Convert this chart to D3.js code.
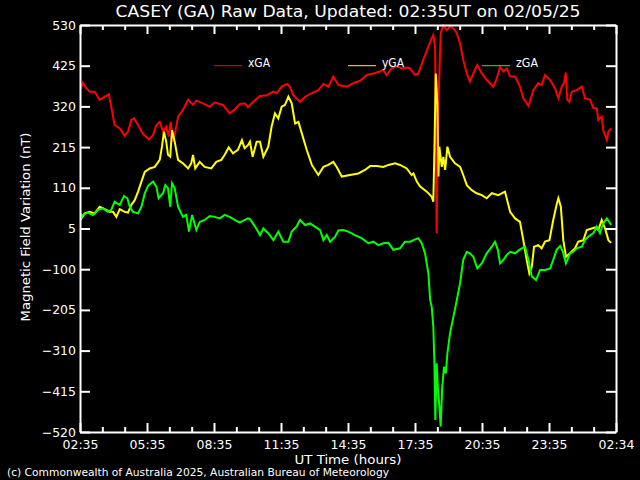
<!DOCTYPE html>
<html><head><meta charset="utf-8">
<script src="https://cdn.jsdelivr.net/npm/d3@7"></script>
<style>html,body{margin:0;padding:0;background:#000;}svg{display:block;}</style>
</head><body>
<script>
// ---- data (hours since 02:35 UT, nT) ----
const titleText = "CASEY (GA) Raw Data, Updated: 02:35UT on 02/05/25";
const xTickLabels = ["02:35","05:35","08:35","11:35","14:35","17:35","20:35","23:35","02:34"];
const yTickValues = [530,425,320,215,110,5,-100,-205,-310,-415,-520];
const seriesNames = ["xGA","yGA","zGA"];

const xGA_t = [0,0.13,0.28,0.43,0.66,0.88,1.11,1.29,1.40,1.55,1.78,2.00,2.15,2.30,2.42,2.60,2.82,3.08,3.27,3.42,3.57,3.72,3.86,3.97,4.06,4.16,4.27,4.39,4.61,4.84,5.06,5.21,5.51,5.81,6.03,6.40,6.70,6.93,7.15,7.38,7.52,7.76,8.06,8.36,8.66,8.81,9.03,9.26,9.40,9.55,9.85,10.08,10.38,10.67,10.90,11.12,11.34,11.57,11.94,12.24,12.54,12.84,13.13,13.43,13.58,13.73,13.96,14.18,14.40,14.63,14.78,15.00,15.15,15.37,15.60,15.75,15.82,15.90,15.97,16.05,16.15,16.27,16.42,16.57,16.72,16.87,17.02,17.16,17.32,17.46,17.61,17.79,17.99,18.21,18.51,18.66,18.81,18.96,19.11,19.26,19.48,19.70,19.85,20.08,20.30,20.52,20.67,20.82,21.05,21.27,21.42,21.57,21.67,21.75,21.82,21.91,22.02,22.24,22.47,22.61,22.84,22.99,23.14,23.21,23.36,23.43,23.59,23.66,23.78];
const xGA_v = [362,381,367,358,358,337,345,351,319,272,263,244,255,285,289,272,249,235,246,272,280,255,268,242,280,229,255,293,311,337,324,335,328,319,330,324,302,312,326,328,318,332,347,349,358,354,371,378,371,349,332,345,354,362,378,371,397,375,371,380,386,401,405,410,414,401,418,424,418,420,418,401,405,440,474,496,504,474,-7,329,509,530,517,526,521,509,483,440,405,384,405,427,405,388,371,392,422,410,418,397,397,371,341,321,362,380,375,401,388,367,341,371,380,407,337,332,358,362,371,341,337,315,315,285,293,259,233,255,263];

const yGA_t = [0,0.06,0.21,0.43,0.66,0.88,1.11,1.33,1.48,1.63,1.78,2.00,2.15,2.30,2.45,2.60,2.75,2.90,3.12,3.35,3.57,3.67,3.76,3.86,3.94,4.04,4.12,4.24,4.39,4.61,4.84,4.98,5.06,5.16,5.36,5.58,5.88,6.10,6.33,6.48,6.66,6.85,7.07,7.25,7.37,7.52,7.61,7.73,7.91,8.06,8.21,8.43,8.58,8.73,8.88,9.03,9.18,9.33,9.48,9.63,9.78,9.93,10.15,10.38,10.67,10.90,11.12,11.34,11.49,11.72,12.09,12.46,12.76,12.99,13.29,13.58,13.81,14.11,14.33,14.63,14.85,14.93,15.08,15.23,15.53,15.75,15.82,15.87,15.93,16.00,16.05,16.09,16.20,16.27,16.35,16.45,16.57,16.79,17.02,17.16,17.32,17.54,17.76,17.99,18.21,18.44,18.73,19.03,19.26,19.48,19.70,19.85,20.00,20.12,20.23,20.33,20.52,20.67,20.82,21.02,21.19,21.34,21.42,21.53,21.64,21.76,21.94,22.17,22.31,22.54,22.69,22.91,23.06,23.21,23.36,23.51,23.66,23.78];
const yGA_v = [48,31,44,48,44,61,55,48,48,35,55,48,46,66,78,100,126,151,160,164,182,216,255,229,195,190,259,229,182,173,160,173,195,160,177,164,160,177,182,195,214,199,208,233,212,220,229,190,229,229,190,216,268,302,289,319,324,345,328,276,280,251,208,169,143,164,169,177,164,139,143,147,156,166,166,164,169,173,169,160,143,147,126,113,100,87,74,208,405,328,139,216,164,190,156,216,190,173,164,143,117,104,96,91,83,96,91,100,48,31,22,-25,-76,-111,-94,-42,-38,-46,-29,-25,27,66,83,61,-25,-68,-59,-46,-29,-25,1,5,8,1,27,5,-25,-32];

const zGA_t = [0,0.13,0.36,0.58,0.81,1.03,1.25,1.40,1.55,1.78,1.97,2.12,2.23,2.37,2.60,2.75,2.90,3.05,3.27,3.42,3.52,3.72,3.82,3.94,4.04,4.12,4.24,4.39,4.61,4.76,4.88,5.02,5.21,5.36,5.58,5.81,6.03,6.26,6.48,6.70,6.93,7.15,7.38,7.52,7.61,7.84,8.06,8.21,8.43,8.66,8.88,9.10,9.33,9.48,9.70,9.85,10.08,10.30,10.52,10.75,10.90,11.05,11.20,11.42,11.57,11.79,12.01,12.31,12.61,12.91,13.13,13.36,13.58,13.81,14.03,14.33,14.55,14.78,14.93,15.15,15.30,15.45,15.60,15.68,15.75,15.82,15.87,15.91,15.97,16.02,16.08,16.15,16.22,16.30,16.38,16.45,16.57,16.72,16.87,17.02,17.16,17.32,17.46,17.61,17.79,17.99,18.21,18.44,18.58,18.71,18.81,18.96,19.11,19.26,19.48,19.70,19.93,20.08,20.23,20.42,20.60,20.82,21.05,21.19,21.34,21.50,21.62,21.76,21.94,22.09,22.24,22.47,22.61,22.76,22.99,23.14,23.28,23.43,23.59,23.70,23.78];
const zGA_v = [27,40,46,40,53,57,48,53,74,66,89,83,61,48,44,61,96,115,126,113,83,96,117,109,61,122,109,61,35,40,-3,40,1,22,27,37,35,31,40,35,27,20,27,31,29,10,-12,5,-7,-25,-3,-29,-29,-3,10,27,14,18,10,1,-25,-12,-29,-16,0,1,-3,-12,-20,-33,-29,-38,-33,-32,-50,-46,-29,-29,-25,-20,-33,-59,-111,-180,-197,-248,-343,-489,-343,-403,-446,-506,-403,-352,-369,-317,-265,-223,-180,-136,-76,-55,-59,-68,-98,-85,-59,-42,-29,-50,-85,-76,-63,-55,-59,-49,-42,-76,-119,-128,-102,-102,-98,-76,-50,-40,-55,-85,-59,-55,-46,-42,-25,-16,-7,10,-7,18,31,22,14];

const series = [
  {name: seriesNames[0], t: xGA_t, v: xGA_v, color: "#ff0000"},
  {name: seriesNames[1], t: yGA_t, v: yGA_v, color: "#ffff00"},
  {name: seriesNames[2], t: zGA_t, v: zGA_v, color: "#00ff00"}
];

const W = 640, H = 480;
const m = {left: 80, right: 616, top: 25, bottom: 432};
const font = "'DejaVu Sans ExtraLight', 'DejaVu Sans', sans-serif";

const svg = d3.select("body").append("svg").attr("width", W).attr("height", H)
  .style("background", "#000");

const x = d3.scaleLinear().domain([0, 24]).range([m.left, m.right]);
const y = d3.scaleLinear().domain([-520, 530]).range([m.bottom, m.top]);

const majorTicks = d3.range(0, 25, 3);
const minorTicks = d3.range(0, 25, 1).filter(d => d % 3 !== 0);

svg.append("defs").append("clipPath").attr("id", "clip")
  .append("rect").attr("x", m.left).attr("y", m.top - 1)
  .attr("width", m.right - m.left).attr("height", m.bottom - m.top + 2);

const line = d3.line().x(d => x(d[0])).y(d => y(d[1]));
const g = svg.append("g").attr("clip-path", "url(#clip)");
series.forEach(s => {
  const pts = s.t.map((t, i) => [t, s.v[i]]);
  g.append("path").datum(pts).attr("d", line)
    .attr("fill", "none").attr("stroke", s.color).attr("stroke-width", 2)
    .attr("stroke-linejoin", "miter");
});

// legend
const legendX = [214, 348, 482];
series.forEach((s, i) => {
  svg.append("line").attr("x1", legendX[i]).attr("x2", legendX[i] + 28)
    .attr("y1", y(425)).attr("y2", y(425))
    .attr("stroke", s.color).attr("stroke-width", 1);
  svg.append("text").attr("x", legendX[i] + 34).attr("y", y(425) + 1)
    .attr("fill", "#fff").attr("font-family", font).attr("font-size", 11.5)
    .attr("textLength", 22).attr("lengthAdjust", "spacingAndGlyphs")
    .text(s.name);
});

const axisColor = "#fff";
function styleAxis(sel) {
  sel.selectAll("path").attr("stroke", axisColor).attr("stroke-width", 2);
  sel.selectAll("line").attr("stroke", axisColor).attr("stroke-width", 2);
  sel.selectAll("text").attr("fill", axisColor).attr("font-family", font).attr("font-size", 12.5);
}

// bottom axis
const bottom = svg.append("g").attr("transform", `translate(0,${m.bottom})`)
  .call(d3.axisBottom(x).tickValues(majorTicks).tickSize(-9).tickSizeOuter(0)
    .tickPadding(8).tickFormat((d, i) => xTickLabels[i]));
styleAxis(bottom);
svg.append("g").attr("transform", `translate(0,${m.bottom})`)
  .call(d3.axisBottom(x).tickValues(minorTicks).tickSize(-5).tickSizeOuter(0).tickFormat(""))
  .call(styleAxis).select(".domain").remove();

// top axis
svg.append("g").attr("transform", `translate(0,${m.top})`)
  .call(d3.axisTop(x).tickValues(majorTicks).tickSize(-9).tickSizeOuter(0).tickFormat(""))
  .call(styleAxis);
svg.append("g").attr("transform", `translate(0,${m.top})`)
  .call(d3.axisTop(x).tickValues(minorTicks).tickSize(-5).tickSizeOuter(0).tickFormat(""))
  .call(styleAxis).select(".domain").remove();

// left axis
const left = svg.append("g").attr("transform", `translate(${m.left},0)`)
  .call(d3.axisLeft(y).tickValues(yTickValues).tickSize(-10).tickSizeOuter(0)
    .tickPadding(4).tickFormat(d => d < 0 ? "\u2212" + Math.abs(d) : String(d)));
styleAxis(left);

// right axis
svg.append("g").attr("transform", `translate(${m.right},0)`)
  .call(d3.axisRight(y).tickValues(yTickValues).tickSize(-10).tickSizeOuter(0).tickFormat(""))
  .call(styleAxis);

// titles
svg.append("text").attr("x", 348).attr("y", 17).attr("text-anchor", "middle")
  .attr("fill", "#fff").attr("font-family", font).attr("font-size", 16)
  .attr("textLength", 465).attr("lengthAdjust", "spacingAndGlyphs")
  .text(titleText);

svg.append("text").attr("x", 348).attr("y", 463.5).attr("text-anchor", "middle")
  .attr("fill", "#fff").attr("font-family", font).attr("font-size", 12)
  .attr("textLength", 107).attr("lengthAdjust", "spacingAndGlyphs")
  .text("UT Time (hours)");

svg.append("text").attr("transform", `translate(30,227) rotate(-90)`)
  .attr("text-anchor", "middle")
  .attr("fill", "#fff").attr("font-family", font).attr("font-size", 12.5)
  .attr("textLength", 189).attr("lengthAdjust", "spacingAndGlyphs")
  .text("Magnetic Field Variation (nT)");

svg.append("text").attr("x", 7).attr("y", 475.5)
  .attr("fill", "#fff").attr("font-family", font).attr("font-size", 10.5)
  .attr("textLength", 382).attr("lengthAdjust", "spacingAndGlyphs")
  .text("(c) Commonwealth of Australia 2025, Australian Bureau of Meteorology");
</script>
</body></html>
